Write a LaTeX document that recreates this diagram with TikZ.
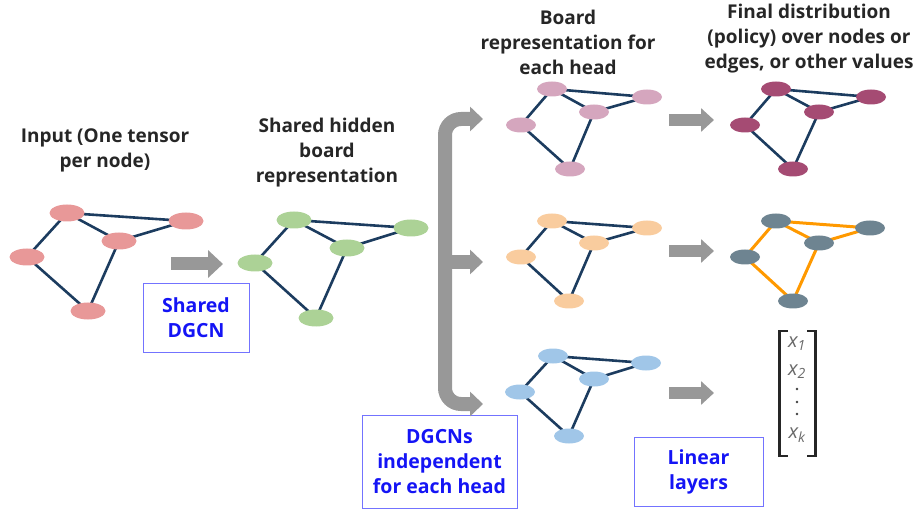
\documentclass[tikz,border=0pt]{standalone}
\usepackage{fontspec}
\setmainfont{Open Sans}
\usetikzlibrary{arrows.meta,backgrounds,shapes.geometric}
\definecolor{edgeblue}{RGB}{28,60,95}
\definecolor{cpink}{RGB}{232,152,152}
\definecolor{cgreen}{RGB}{172,210,150}
\definecolor{cmauve}{RGB}{213,166,190}
\definecolor{cmagenta}{RGB}{165,75,115}
\definecolor{cpeach}{RGB}{249,204,158}
\definecolor{cslate}{RGB}{110,132,145}
\definecolor{corange}{RGB}{255,153,0}
\definecolor{cblue}{RGB}{160,198,232}
\definecolor{arrgray}{RGB}{152,152,152}
\definecolor{boxline}{RGB}{115,115,255}
\definecolor{boxtext}{RGB}{20,20,245}
\definecolor{vecgray}{RGB}{105,105,105}
\newcommand\gnet[8]{%
  \node[#2] (#1t) at (#4) {};
  \node[#2] (#1r) at (#5) {};
  \node[#2] (#1m) at (#6) {};
  \node[#2] (#1l) at (#7) {};
  \node[#2] (#1b) at (#8) {};
  \begin{pgfonlayer}{background}
    \draw[#3] (#1l.center) -- (#1t.center) (#1t.center) -- (#1r.center)
      (#1t.center) -- (#1m.center) (#1m.center) -- (#1r.center)
      (#1l.center) -- (#1b.center) (#1b.center) -- (#1m.center);
  \end{pgfonlayer}}
\tikzset{
  gnode/.style={ellipse, draw=none, inner sep=0pt},
  bignode/.style={gnode, minimum width=35pt, minimum height=17pt},
  smallnode/.style={gnode, minimum width=30pt, minimum height=15pt},
  gedge/.style={draw=edgeblue, line width=2.6pt},
  oedge/.style={draw=corange, line width=3pt},
  title/.style={align=center, font=\bfseries\fontsize{19}{25}\selectfont, text=black!85, inner sep=0pt},
  bbox/.style={draw=boxline, line width=1pt, align=center, text=boxtext,
    font=\bfseries\fontsize{19.5}{25}\selectfont, inner sep=0pt},
  blockarrow/.style={draw=arrgray, line width=13pt, -{Triangle[width=27pt,length=15pt]}},
  smallarrow/.style={draw=arrgray, line width=12pt, -{Triangle[width=23pt,length=13pt]}},
  vecent/.style={text=vecgray, font=\itshape\fontsize{20}{22}\selectfont, inner sep=0pt},
  vbracket/.style={line width=2.6pt, black!85, line cap=butt},
}
\begin{document}
\begin{tikzpicture}[x=1pt,y=-1pt]
\useasboundingbox (0,0) rectangle (920,510);

% graphs
\gnet{a}{bignode, fill=cpink}{gedge}{67,213}{186,221}{119,241}{27,257}{88,311}
\gnet{g}{bignode, fill=cgreen}{gedge}{294,220}{411,228}{347,248}{255,263}{316,318}
\gnet{h}{smallnode, fill=cmauve}{gedge}{552,89}{647,97}{594,112}{521,125}{570,169}
\gnet{f}{smallnode, fill=cmagenta}{gedge}{776,89}{871,97}{819,112}{745,125}{793,169}
\gnet{o}{smallnode, fill=cpeach}{gedge}{552,221}{647,228}{594,243}{521,257}{569,301}
\gnet{s}{smallnode, fill=cslate}{oedge}{776,221}{870,228}{819,243}{745,257}{793,301}
\gnet{b}{smallnode, fill=cblue}{gedge}{553,356}{646,363}{594,379}{520,392}{569,436}

% titles
\node[title] (tin) at (105,150) {Input (One tensor\\per node)};
\node[title] (tsh) at (327,153) {Shared hidden\\board\\representation};
\node[title] (tbo) at (568,42) {Board\\representation for\\each head};
\node[title] (tfi) at (809,39) {Final distribution\\(policy) over nodes or\\edges, or other values};

% boxes
\node[bbox, minimum width=106pt, minimum height=68pt] (box1) at (196,318) {Shared\\DGCN};
\node[bbox, minimum width=155pt, minimum height=93pt] (box2) at (439.5,461.5) {DGCNs\\independent\\for each head};
\node[bbox, minimum width=129pt, minimum height=69pt] (box3) at (698.5,471.5) {Linear\\layers};

% block arrows
\coordinate (a1s) at (171,264); \coordinate (a1e) at (223,264);
\draw[blockarrow] (a1s) -- (a1e);
\coordinate (a2s) at (669,120); \coordinate (a2e) at (714,120);
\draw[smallarrow] (a2s) -- (a2e);
\coordinate (a3s) at (669,251); \coordinate (a3e) at (714,251);
\draw[smallarrow] (a3s) -- (a3e);
\coordinate (a4s) at (669,393); \coordinate (a4e) at (714,393);
\draw[smallarrow] (a4s) -- (a4e);

% split bracket
\coordinate (btop) at (483,119);
\coordinate (bmid) at (483,262);
\coordinate (bbot) at (483,404);
\coordinate (bv) at (445,262);
\draw[draw=arrgray, line width=14pt, rounded corners=16pt,
  {Triangle[width=24pt,length=13pt]}-{Triangle[width=24pt,length=13pt]}]
  (bbot) -- (445,404) -- (445,119) -- (btop);
\draw[draw=arrgray, line width=14pt, -{Triangle[width=24pt,length=13pt]}] (bv) -- (bmid);

% output vector
\draw[vbracket] (788,331) -- (779.5,331) -- (779.5,456) -- (788,456);
\draw[vbracket] (807,331) -- (815.5,331) -- (815.5,456) -- (807,456);
\node[vecent] (x1) at (797,344) {x\textsubscript{1}};
\node[vecent] (x2) at (797,372) {x\textsubscript{2}};
\node[vecent] (xk) at (797,435) {x\textsubscript{k}};
\fill[black!75] (797,389) circle (1.4pt) (797,402) circle (1.4pt) (797,414) circle (1.4pt);
\end{tikzpicture}
\end{document}
